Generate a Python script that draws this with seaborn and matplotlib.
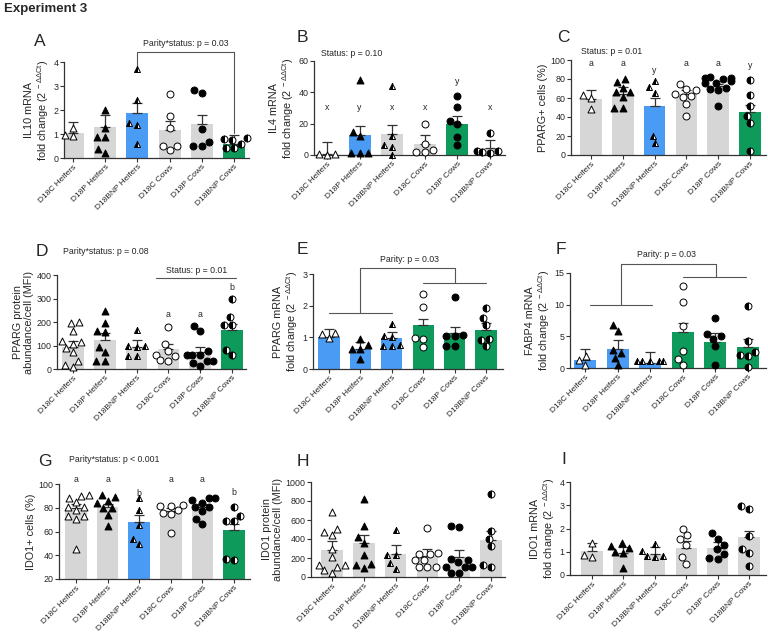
import warnings
warnings.filterwarnings("ignore")
import numpy as np
import pandas as pd
import matplotlib
matplotlib.use("Agg")
import matplotlib.pyplot as plt
from matplotlib.markers import MarkerStyle
import seaborn as sns

groups = ["D18C Heifers", "D18P Heifers", "D18BNP Heifers",
          "D18C Cows", "D18P Cows", "D18BNP Cows"]

# ---------------- data ----------------
A_mean = [1.06, 1.31, 1.86, 1.17, 1.42, 0.57]
A_sem = [0.45, 0.47, 0.45, 0.37, 0.36, 0.39]
A_pts = [[1.26, 0.93, 0.95],
         [2.0, 1.26, 0.86, 0.86, 0.21, 0.39],
         [3.69, 2.42, 1.44, 1.37, 0.58],
         [2.65, 1.75, 1.24, 0.33, 0.51, 0.51],
         [2.72, 2.83, 1.19, 0.51, 0.51, 0.68],
         [0.83, 0.75, 0.78, 0.43, 0.58, 0.43]]

B_mean = [0.8, 12.9, 13.6, 6.8, 19.7, 4.2]
B_sem = [7.3, 5.3, 5.7, 5.7, 5.3, 5.1]
B_pts = [[0.2, 0.8, 0.6],
         [47.9, 14.6, 11.9, 1.3, 1.3, 1.3],
         [44.1, 12.3, 6.1, 5.3, 0.2],
         [20.1, 1.7, 3.4, 7.2, 1.7],
         [37.5, 30.5, 22.0, 20.1, 11.7, 6.6],
         [14.0, 2.8, 1.7, 2.3, 1.5]]
B_letters = ["x", "y", "x", "x", "y", "x"]
B_letter_y = [30, 30, 30, 30, 47, 30]

C_mean = [58.8, 64.1, 52.1, 64.1, 72.2, 45.1]
C_sem = [9.5, 7.4, 7.4, 4.0, 3.0, 7.4]
C_pts = [[62.7, 59.9, 48.6],
         [79.9, 76.8, 70.8, 65.8, 65.8, 60.9, 50.0, 50.0],
         [77.8, 71.5, 65.5, 20.4, 12.3],
         [74.6, 69.7, 68.0, 64.4, 61.6, 60.9, 53.5, 40.8],
         [82.0, 81.0, 80.3, 81.5, 77.5, 75.7, 76.0, 70.4, 68.0, 69.4, 51.1],
         [79.2, 63.4, 51.8, 41.2, 33.5, 4.6]]
C_letters = ["a", "a", "y", "a", "a", "y"]
C_letter_y = [96.8, 96.8, 89, 96.8, 96.8, 94]

D_mean = [93.6, 123.4, 92.0, 85.0, 73.7, 166.0]
D_sem = [24.1, 28.3, 32.8, 23.0, 19.9, 24.0]
D_pts = [[195.7, 200, 163, 116, 117.7, 89, 71, 32.6, 7, 15.6, 106],
         [245, 194, 156, 163, 32.6, 32.6, 95, 72],
         [167, 92, 96, 96, 54, 54],
         [178.7, 106, 75, 61, 40, 33, 54],
         [184, 163, 75, 61, 61, 61, 32.6, 25.5, 32.6, 11.3],
         [299, 221, 188.6, 188.6, 82, 61]]
D_letters = ["", "", "", "a", "a", "b"]
D_letter_y = [0, 0, 0, 231, 231, 345]

E_mean = [1.0, 0.63, 0.97, 1.38, 1.15, 1.24]
E_sem = [0.25, 0.22, 0.20, 0.19, 0.17, 0.22]
E_pts = [[1.09, 1.15, 0.98],
         [0.94, 0.75, 0.64, 0.64, 0.33],
         [1.43, 1.04, 1.01, 0.72, 0.75, 0.72],
         [2.38, 1.96, 0.99, 0.96, 0.69],
         [2.27, 1.04, 1.06, 1.04, 0.73, 0.73],
         [1.94, 1.61, 1.38, 0.96, 0.93, 0.73]]

F_mean = [1.21, 3.05, 0.79, 5.63, 4.10, 3.26]
F_sem = [1.84, 1.32, 1.74, 1.42, 1.43, 1.37]
F_pts = [[1.84, 1.21, 0.42],
         [6.84, 5.79, 2.89, 2.37, 1.58, 0.42],
         [1.05, 1.1, 1.15, 1.05, 1.05],
         [13.0, 10.4, 6.63, 2.63, 1.47, 0.42],
         [7.9, 5.42, 5.0, 4.63, 3.42, 0.53],
         [9.74, 4.32, 2.53, 2.1, 1.9, 0.16]]

G_mean = [79.8, 80.4, 68.0, 77.0, 80.6, 61.5]
G_sem = [3.5, 3.0, 5.6, 3.0, 2.5, 5.1]
G_pts = [[88.5, 91, 89.9, 84.8, 80.6, 80.6, 77.8, 72.8, 72.8, 70.5, 45.3],
         [86, 91, 88.8, 79.8, 79.8, 74.2, 64.9, 84],
         [88.2, 77.8, 65.8, 49.8, 54],
         [81.8, 82, 81.8, 77.8, 75.6, 74.7, 58.7],
         [84, 86.8, 88, 88, 80.6, 77, 80.6, 70.5, 66.3],
         [80.6, 72.8, 68.6, 68.6, 35.7, 36.8]]
G_letters = ["a", "a", "b", "a", "a", "b"]
G_letter_y = [104.2, 104.2, 91.9, 104.2, 104.2, 93]

H_mean = [288, 358, 242, 217, 210, 393]
H_sem = [87, 80, 95, 77, 71, 91]
H_pts = [[684, 474, 509, 439, 298, 210, 130, 130, 105, 42, 70],
         [821, 533, 421, 361, 228, 133, 123, 95],
         [491, 228, 232, 144, 80],
         [519, 246, 253, 246, 175, 182, 105, 105, 105],
         [526, 540, 158, 182, 193, 105, 105, 105, 42, 42],
         [870, 484, 404, 323, 105, 130]]

I_mean = [1.04, 0.93, 0.89, 1.17, 1.17, 1.64]
I_sem = [0.32, 0.27, 0.30, 0.30, 0.23, 0.25]
I_pts = [[1.36, 0.79, 0.86],
         [1.0, 1.17, 1.24, 1.36, 0.93, 0.29],
         [1.33, 1.03, 0.79, 0.81, 0.81],
         [2.0, 1.71, 1.53, 1.31, 0.47, 0.76],
         [1.79, 1.53, 1.29, 1.1, 0.67, 0.71, 0.9],
         [2.86, 2.96, 1.67, 1.1, 0.93, 0.39]]

# ---------------- style ----------------
sns.set_style("ticks")
plt.rcParams["font.family"] = ["Liberation Sans", "DejaVu Sans"]
plt.rcParams["mathtext.fontset"] = "custom"
plt.rcParams["mathtext.rm"] = "Liberation Sans"
plt.rcParams["mathtext.it"] = "Liberation Sans:italic"
plt.rcParams["mathtext.default"] = "regular"

GREY = "#d6d6d6"
BLUE = "#4a9bf4"
GREEN = "#0d9a5a"
AXC = "#333333"

FC = r"fold change (2$^{\ -\Delta\Delta Ct}$)"

panels = {
    "A": dict(mean=A_mean, sem=A_sem, pts=A_pts, ylabel="IL10 mRNA\n" + FC,
              colors=[GREY, GREY, BLUE, GREY, GREY, GREEN], ylim=(0, 4), yticks=[0, 1, 2, 3, 4],
              geo=(64, 73, 234, 249, 62, 158), letter_xy=(40, 42)),
    "B": dict(mean=B_mean, sem=B_sem, pts=B_pts, ylabel="IL4 mRNA\n" + FC,
              colors=[GREY, BLUE, GREY, GREY, GREEN, GREY], ylim=(0, 60), yticks=[0, 20, 40, 60],
              geo=(314, 327, 490, 505, 61, 155), letter_xy=(302, 38)),
    "C": dict(mean=C_mean, sem=C_sem, pts=C_pts, ylabel="PPARG+ cells (%)",
              colors=[GREY, GREY, BLUE, GREY, GREY, GREEN], ylim=(0, 100), yticks=[0, 20, 40, 60, 80, 100],
              geo=(571, 591, 750, 766, 60, 155), letter_xy=(563, 37)),
    "D": dict(mean=D_mean, sem=D_sem, pts=D_pts, ylabel="PPARG protein\nabundance/cell (MFI)",
              colors=[GREY] * 5 + [GREEN], ylim=(0, 400), yticks=[0, 100, 200, 300, 400],
              geo=(57, 73, 232, 246, 275, 369), letter_xy=(42, 252)),
    "E": dict(mean=E_mean, sem=E_sem, pts=E_pts, ylabel="PPARG mRNA\n" + FC,
              colors=[BLUE] * 3 + [GREEN] * 3, ylim=(0, 3), yticks=[0, 1, 2, 3],
              geo=(313, 329, 486, 503, 274, 369), letter_xy=(302, 249)),
    "F": dict(mean=F_mean, sem=F_sem, pts=F_pts, ylabel="FABP4 mRNA\n" + FC,
              colors=[BLUE] * 3 + [GREEN] * 3, ylim=(0, 15), yticks=[0, 5, 10, 15],
              geo=(570, 585, 748, 766, 273, 368), letter_xy=(561, 249)),
    "G": dict(mean=G_mean, sem=G_sem, pts=G_pts, ylabel="IDO1+ cells (%)",
              colors=[GREY, GREY, BLUE, GREY, GREY, GREEN], ylim=(20, 100), yticks=[20, 40, 60, 80, 100],
              geo=(59, 76, 234, 250, 484, 579), letter_xy=(45, 462)),
    "H": dict(mean=H_mean, sem=H_sem, pts=H_pts, ylabel="IDO1 protein\nabundance/cell (MFI)",
              colors=[GREY] * 6, ylim=(0, 1000), yticks=[0, 200, 400, 600, 800, 1000],
              geo=(311, 332, 491, 505, 482, 577), letter_xy=(303, 461)),
    "I": dict(mean=I_mean, sem=I_sem, pts=I_pts, ylabel="IDO1 mRNA\n" + FC,
              colors=[GREY] * 6, ylim=(0, 4), yticks=[0, 1, 2, 3, 4],
              geo=(570, 592, 749, 766, 482, 575), letter_xy=(564, 459)),
}

W, H = 768, 644
fig = plt.figure(figsize=(W / 100, H / 100), dpi=100)

tri_l = MarkerStyle("^", fillstyle="left")
tri_r = MarkerStyle("^", fillstyle="right")
cir_l = MarkerStyle("o", fillstyle="left")
cir_r = MarkerStyle("o", fillstyle="right")
marker_styles = [
    [("^", "white")],
    [("^", "black")],
    [(tri_r, "white"), (tri_l, "black")],
    [("o", "white")],
    [("o", "black")],
    [(cir_r, "white"), (cir_l, "black")],
]

TXT = 6.3
axes = {}
for key, p in panels.items():
    sx, b0, b5, rx, ty, by = p["geo"]
    ppu = (b5 - b0) / 5.0
    ax = fig.add_axes([sx / W, 1 - by / H, (rx - sx) / W, (by - ty) / H])
    axes[key] = ax
    bars = pd.DataFrame({"group": groups, "mean": p["mean"], "sem": p["sem"]})
    sns.barplot(data=bars, x="group", y="mean", hue="group", order=groups, hue_order=groups,
                palette=p["colors"], width=0.68, errorbar=None, legend=False,
                saturation=1, linewidth=0, ax=ax, zorder=1)
    ax.errorbar(np.arange(6), bars["mean"], yerr=[np.zeros(6), bars["sem"]], fmt="none",
                ecolor=AXC, elinewidth=0.9, capsize=3.4, capthick=0.9, zorder=3)
    long = pd.DataFrame([(g, v) for g, vals in zip(groups, p["pts"]) for v in vals],
                        columns=["group", "value"])
    for i, g in enumerate(groups):
        sub = long[long["group"] == g]
        for mk, fc in marker_styles[i]:
            sns.swarmplot(data=sub, x="group", y="value", order=groups, marker=mk,
                          color=fc, edgecolor="black", linewidth=0.7, size=5.0,
                          ax=ax, zorder=4, clip_on=False)
    ax.set_xlim((sx - b0) / ppu, (rx - b0) / ppu)
    ax.set_ylim(*p["ylim"])
    ax.set_yticks(p["yticks"])
    ax.set_xlabel("")
    ax.set_ylabel(p["ylabel"], fontsize=7.8, labelpad=2, linespacing=1.1)
    for s in ["top", "right"]:
        ax.spines[s].set_visible(False)
    for s in ["left", "bottom"]:
        ax.spines[s].set_color(AXC)
        ax.spines[s].set_linewidth(0.9)
    ax.tick_params(axis="y", labelsize=6.4, length=3, width=0.8, color=AXC, pad=1)
    ax.tick_params(axis="x", labelsize=6.0, length=3, width=0.8, color=AXC, pad=1)
    plt.setp(ax.get_xticklabels(), rotation=45, ha="right", rotation_mode="anchor")
    fig.text(p["letter_xy"][0] / W, 1 - p["letter_xy"][1] / H, key, fontsize=12.5,
             ha="center", va="center")

# letters above bars
for key, letters, ly in [("B", B_letters, B_letter_y), ("C", C_letters, C_letter_y),
                         ("D", D_letters, D_letter_y), ("G", G_letters, G_letter_y)]:
    ax = axes[key]
    for i, (l, yv) in enumerate(zip(letters, ly)):
        if l:
            ax.text(i, yv, l, fontsize=TXT, ha="center", va="center", clip_on=False)

LC = "#555555"
LW = 0.8

# A bracket
ax = axes["A"]
ax.plot([2, 2, 5, 5], [3.85, 4.4, 4.4, 1.03], color=LC, lw=LW, clip_on=False)
ax.text(3.5, 4.75, "Parity*status: p = 0.03", fontsize=TXT, ha="center", va="center")

axes["B"].text(-0.19, 64.9, "Status: p = 0.10", fontsize=TXT, ha="left", va="center")
axes["C"].text(-0.31, 108.5, "Status: p = 0.01", fontsize=TXT, ha="left", va="center")

ax = axes["D"]
ax.text(-0.31, 500, "Parity*status: p = 0.08", fontsize=TXT, ha="left", va="center")
ax.plot([2.61, 5.13], [387, 387], color=LC, lw=LW, clip_on=False)
ax.text(3.9, 418, "Status: p = 0.01", fontsize=TXT, ha="center", va="center")

ax = axes["E"]
ax.plot([0, 2], [1.78, 1.78], color=LC, lw=LW, clip_on=False)
ax.plot([3, 5], [2.72, 2.72], color=LC, lw=LW, clip_on=False)
ax.plot([1, 1, 4, 4], [1.78, 3.19, 3.19, 2.72], color=LC, lw=LW, clip_on=False)
ax.text(2.55, 3.46, "Parity: p = 0.03", fontsize=TXT, ha="center", va="center")

ax = axes["F"]
ax.plot([0.14, 2.06], [9.89, 9.89], color=LC, lw=LW, clip_on=False)
ax.plot([3.02, 4.95], [14.4, 14.4], color=LC, lw=LW, clip_on=False)
ax.plot([1.09, 1.09, 4.03, 4.03], [9.89, 16.5, 16.5, 14.4], color=LC, lw=LW, clip_on=False)
ax.text(2.5, 17.9, "Parity: p = 0.03", fontsize=TXT, ha="center", va="center")

axes["G"].text(-0.21, 121, "Parity*status: p < 0.001", fontsize=TXT, ha="left", va="center")

fig.text(4 / W, 1 - 9 / H, "Experiment 3", fontsize=9.5, fontweight="bold", ha="left", va="center")

fig.savefig("out.png", dpi=100)
